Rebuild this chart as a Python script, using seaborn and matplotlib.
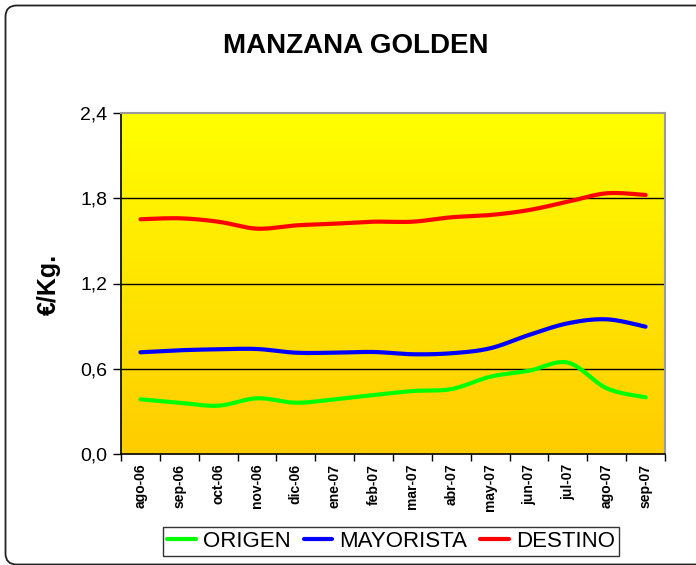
import numpy as np
import pandas as pd
import matplotlib
matplotlib.use("Agg")
import matplotlib.pyplot as plt
from matplotlib.lines import Line2D
from matplotlib.patches import FancyBboxPatch
from matplotlib.colors import LinearSegmentedColormap
import seaborn as sns

# Monthly prices (EUR/kg)
months = ["ago-06", "sep-06", "oct-06", "nov-06", "dic-06", "ene-07", "feb-07",
          "mar-07", "abr-07", "may-07", "jun-07", "jul-07", "ago-07", "sep-07"]
origen = [0.385, 0.361, 0.340, 0.392, 0.361, 0.385, 0.415,
          0.443, 0.457, 0.544, 0.586, 0.643, 0.462, 0.399]
mayorista = [0.716, 0.730, 0.737, 0.739, 0.713, 0.713, 0.718,
             0.702, 0.709, 0.744, 0.838, 0.920, 0.948, 0.896]
destino = [1.652, 1.659, 1.635, 1.586, 1.609, 1.621, 1.635,
           1.635, 1.666, 1.682, 1.717, 1.776, 1.835, 1.823]

series_names = ["ORIGEN", "MAYORISTA", "DESTINO"]
series_colors = ["#00FF00", "#0000FF", "#FF0000"]
y_ticks = [0.0, 0.6, 1.2, 1.8, 2.4]
y_tick_labels = ["0,0", "0,6", "1,2", "1,8", "2,4"]

plt.rcParams["font.family"] = ["Liberation Sans", "DejaVu Sans"]


def smooth_curve(values, samples=20):
    """Catmull-Rom smoothing between consecutive category points."""
    y = np.asarray(values, dtype=float)
    x = np.arange(len(y), dtype=float)
    px = np.concatenate([[x[0]], x, [x[-1]]])
    py = np.concatenate([[y[0]], y, [y[-1]]])
    xs, ys = [], []
    for i in range(len(y) - 1):
        p0x, p1x, p2x, p3x = px[i], px[i + 1], px[i + 2], px[i + 3]
        p0y, p1y, p2y, p3y = py[i], py[i + 1], py[i + 2], py[i + 3]
        c1x, c1y = p1x + (p2x - p0x) / 6, p1y + (p2y - p0y) / 6
        c2x, c2y = p2x - (p3x - p1x) / 6, p2y - (p3y - p1y) / 6
        t = np.linspace(0, 1, samples, endpoint=(i == len(y) - 2))
        b0, b1, b2, b3 = (1 - t) ** 3, 3 * t * (1 - t) ** 2, 3 * t ** 2 * (1 - t), t ** 3
        xs.append(b0 * p1x + b1 * c1x + b2 * c2x + b3 * p2x)
        ys.append(b0 * p1y + b1 * c1y + b2 * c2y + b3 * p2y)
    return np.concatenate(xs), np.concatenate(ys)


frames = []
for name, vals in zip(series_names, [origen, mayorista, destino]):
    sx, sy = smooth_curve(vals)
    frames.append(pd.DataFrame({"pos": sx, "precio": sy, "serie": name}))
df = pd.concat(frames, ignore_index=True)

W, H = 696, 565
fig = plt.figure(figsize=(W / 100, H / 100), dpi=100)

# rounded outer frame of the chart
frame = FancyBboxPatch((5.5 / W, 0.5 / H), (720 - 5.5) / W, (559.5 - 0.5) / H,
                       boxstyle="round,pad=0,rounding_size=0.016",
                       transform=fig.transFigure, facecolor="none",
                       edgecolor="#222222", linewidth=1.3, zorder=0,
                       mutation_aspect=W / H)
fig.patches.append(frame)

left, right, top, bottom = 121, 665, 113, 454
ax = fig.add_axes([left / W, (H - bottom) / H, (right - left) / W, (bottom - top) / H])

# vertical yellow-to-gold gradient behind the plot area
grad = LinearSegmentedColormap.from_list("gold", ["#FFCC00", "#FFFF00"])
ax.imshow(np.linspace(0, 1, 256).reshape(-1, 1), aspect="auto", cmap=grad,
          origin="lower", extent=(-0.5, 13.5, 0, 2.4), zorder=0)

for yv in y_ticks[1:-1]:
    ax.axhline(yv, color="black", linewidth=1.0, zorder=1)

sns.lineplot(data=df, x="pos", y="precio", hue="serie", hue_order=series_names,
             palette=series_colors, sort=False, estimator=None, linewidth=3.0,
             legend=False, ax=ax, zorder=3)
for ln in ax.get_lines():
    ln.set_solid_capstyle("round")

ax.set_xlim(-0.5, 13.5)
ax.set_ylim(0, 2.4)
ax.set_xlabel("")
ax.set_ylabel("")

ax.set_yticks(y_ticks)
ax.set_yticklabels(y_tick_labels, fontsize=14)
ax.tick_params(axis="y", direction="out", length=6, width=1, color="black", pad=4)

ax.set_xticks(range(len(months)))
ax.set_xticklabels(months, rotation=90, fontsize=10, fontweight="bold")
ax.set_xticks(np.arange(-0.5, 14, 1.0), minor=True)
ax.tick_params(axis="x", which="major", length=0, pad=7)
ax.tick_params(axis="x", which="minor", direction="out", length=5, width=1, color="black")

for side in ["left", "bottom"]:
    ax.spines[side].set_color("black")
    ax.spines[side].set_linewidth(1.2)
for side in ["top", "right"]:
    ax.spines[side].set_color("#9A9A9A")
    ax.spines[side].set_linewidth(1.5)

fig.text(356 / W, 1 - 46 / H, "MANZANA GOLDEN", ha="center", va="center",
         fontsize=20, fontweight="bold")
fig.text(49 / W, 1 - 284 / H, "€/Kg.", ha="center", va="center", rotation=90,
         fontsize=18, fontweight="bold")

handles = [Line2D([0], [0], color=c, linewidth=3, solid_capstyle="round") for c in series_colors]
leg = fig.legend(handles, series_names, loc="center", bbox_to_anchor=(391 / W, 1 - 541.5 / H),
                 ncol=3, fontsize=16, frameon=True, fancybox=False, handlelength=1.3,
                 handletextpad=0.3, columnspacing=0.6, borderpad=0.2, borderaxespad=0)
leg.get_frame().set_edgecolor("black")
leg.get_frame().set_linewidth(1.0)

fig.savefig("out.png", dpi=100)
